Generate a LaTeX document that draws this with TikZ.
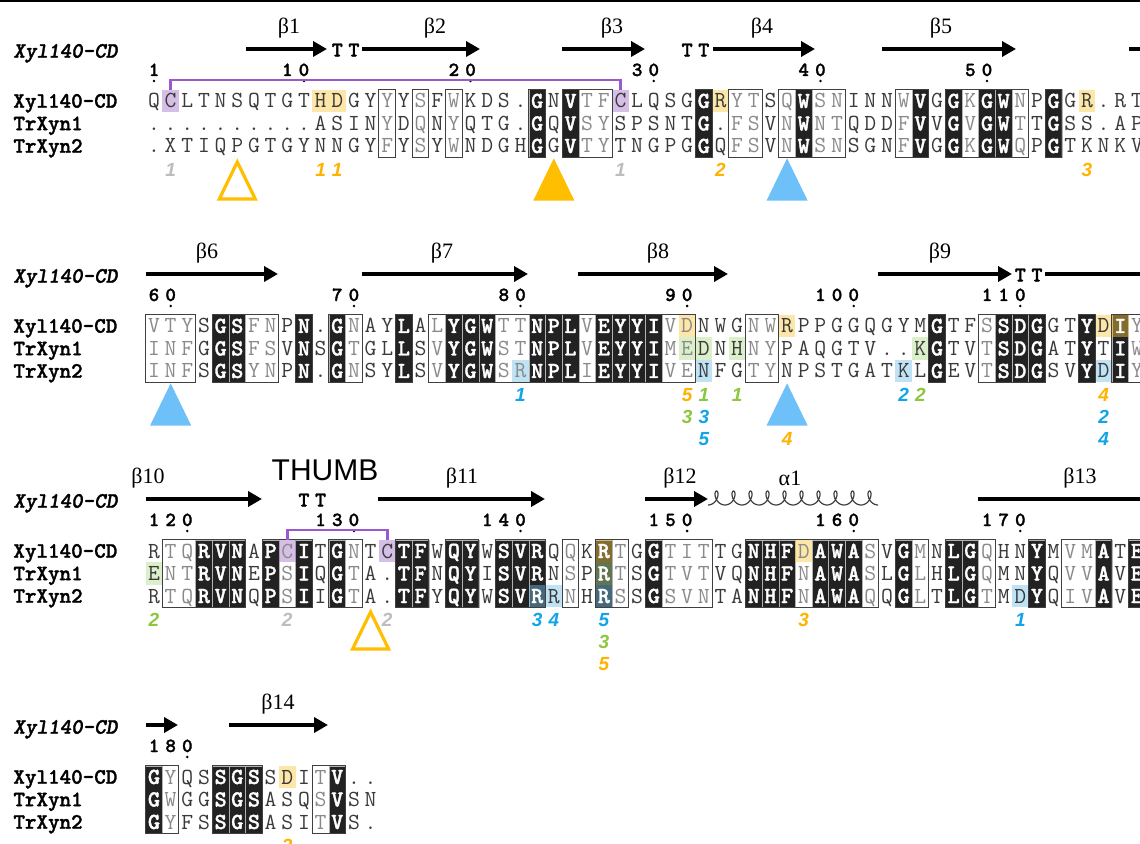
\documentclass[tikz,border=0pt]{standalone}
\usepackage{fontspec}
\newfontfamily\labsans{Liberation Sans}
\newfontfamily\labserif{Liberation Serif}
\newfontfamily\monobf{lmmonolt10-bold.otf}[FakeBold=1.5]
\newfontfamily\monobfsl{lmmonolt10-boldoblique.otf}[FakeBold=1.5]
\usetikzlibrary{arrows.meta}

\definecolor{resdark}{HTML}{3A3A3A}
\definecolor{reslight}{HTML}{8A8A8A}
\definecolor{idblack}{HTML}{222222}
\definecolor{hlyel}{HTML}{F9C83E}
\definecolor{hlgrn}{HTML}{B2DC8C}
\definecolor{hlblu}{HTML}{71C1E9}
\definecolor{hlpur}{HTML}{A471C8}
\definecolor{numorg}{HTML}{FFB300}
\definecolor{numblu}{HTML}{12A4E6}
\definecolor{numgrn}{HTML}{8DC63F}
\definecolor{numgry}{HTML}{BDBDBD}
\definecolor{triorg}{HTML}{FFBE00}
\definecolor{triblu}{HTML}{6EC0F8}
\definecolor{bondpur}{HTML}{9B59CF}

% column geometry, 1 unit = 1 px
\newcommand\colx[1]{154+16.66*(#1-1)}
\newcommand\coll[1]{145.67+16.66*(#1-1)}

\makeatletter
% prefix, y, identical columns, framed columns, residues
\newcommand\seqline[5]{%
  \foreach \rs [count=\ci] in {#5}{%
    \edef\seqtmp{{,\ci,}{,#3,}}%
    \expandafter\in@\seqtmp
    \ifin@ \node[resid] (#1-\ci) at ({\colx{\ci}},#2) {\rs};%
    \else
      \edef\seqtmp{{,\ci,}{,#4,}}%
      \expandafter\in@\seqtmp
      \ifin@ \node[resfr] (#1-\ci) at ({\colx{\ci}},#2) {\rs};%
      \else \node[res] (#1-\ci) at ({\colx{\ci}},#2) {\rs};\fi
    \fi}}
\makeatother
\newcommand\seqid[1]{%
  \foreach \cc in #1
    \fill[idbox] ({\coll{\cc}},-11.25) rectangle ++(16.66,67.5);}
\newcommand\seqframes[1]{%
  \foreach \fa/\fb in {#1}
    \draw[frm] ({\coll{\fa}},-11.25) rectangle ({\coll{\fb}+16.66},56.25);}
\newcommand\seqhl[1]{%
  \foreach \cc/\rw/\hc in {#1}
    \fill[\hc,opacity=.45] ({\coll{\cc}},{-11.25+22.5*\rw}) rectangle ++(16.66,22.5);}
\newcommand\seqnums[3]{%
  \foreach \cc/\dg in {#2} \node[num] (#1-\cc) at ({\colx{\cc}},-31) {\dg};
  \foreach \cc in {#3} \fill ({\colx{\cc}},-20) circle[radius=0.7pt];}
\newcommand\seqnotes[2]{%
  \foreach \cc/\lv/\nt/\lc in {#2}
    \node[note,text=\lc] (#1-\cc-\lv) at ({\colx{\cc}},{69+22*\lv}) {\nt};}
\newcommand\seqtris[1]{%
  \foreach \cc/\tc/\tf in {#1}
    \draw[tri,draw=\tc,fill=\tf] ({\colx{\cc}},61) -- ++(18,37) -- ++(-36,0) -- cycle;}

\begin{document}
\begin{tikzpicture}[x=0.5pt,y=-0.5pt,
    res/.style={font=\fontsize{11.5}{12}\ttfamily, text=resdark, inner sep=0pt, text height=7pt, text depth=0pt},
    resfr/.style={res, text=reslight},
    resid/.style={res, font=\monobf\fontsize{11.5}{12}\selectfont, text=white},
    idbox/.style={fill=idblack, draw=gray!60, line width=0.25pt},
    frm/.style={draw=black!75, line width=0.5pt},
    seqname/.style={font=\monobf\fontsize{11}{12}\selectfont, anchor=west, inner sep=0pt, text height=6.7pt, text depth=0pt},
    topname/.style={seqname, font=\monobfsl\fontsize{11}{12}\selectfont},
    num/.style={font=\monobf\fontsize{10}{11}\selectfont, inner sep=0pt, text height=6pt, text depth=0pt},
    turn/.style={font=\monobf\fontsize{10.5}{12}\selectfont, inner sep=0pt, text height=6.4pt, text depth=0pt},
    ss/.style={line width=2pt},
    ssarr/.style={ss, -{Triangle[length=7pt,width=7.5pt]}},
    sslab/.style={font=\labserif\fontsize{11}{12}\selectfont, inner sep=0pt},
    note/.style={font=\labsans\bfseries\itshape\fontsize{9.5}{10}\selectfont, inner sep=0pt, text height=6.8pt, text depth=0pt},
    tri/.style={line width=1.6pt, line join=miter},
    ssbond/.style={draw=bondpur, line width=1.3pt},
    helix/.style={draw=black!75, line width=0.6pt},
  ]
  \useasboundingbox (0,0) rectangle (1140,844);
  \clip (0,0) rectangle (1140,844);
  \draw[line width=1.5pt] (0,1) -- (1140,1);

  % block 1: residues 1-58
  \begin{scope}[shift={(0,101)}]
    \def\idone{24,26,34,40,47,49,51,52,55}
    \def\frone{15,17,19,27,28,36,37,39,41,42,46,50,53}
    \node[topname] (top1) at (13,-50) {Xyl140-CD};
    \node[seqname] (nm1a) at (13,0) {Xyl140-CD};
    \node[seqname] (nm1b) at (13,22.5) {TrXyn1};
    \node[seqname] (nm1c) at (13,45) {TrXyn2};
    \seqid{\idone}
    \seqhl{2/0/hlpur,11/0/hlyel,12/0/hlyel,29/0/hlpur,35/0/hlyel,57/0/hlyel}
    \seqline{x1}{0}{\idone}{\frone}{Q,C,L,T,N,S,Q,T,G,T,H,D,G,Y,Y,Y,S,F,W,K,D,S,.,G,N,V,T,F,C,L,Q,S,G,G,R,Y,T,S,Q,W,S,N,I,N,N,W,V,G,G,K,G,W,N,P,G,G,R,.,R,T}
    \seqline{y1}{22.5}{\idone}{\frone}{.,.,.,.,.,.,.,.,.,.,A,S,I,N,Y,D,Q,N,Y,Q,T,G,.,G,Q,V,S,Y,S,P,S,N,T,G,.,F,S,V,N,W,N,T,Q,D,D,F,V,V,G,V,G,W,T,T,G,S,S,.,A,P}
    \seqline{z1}{45}{\idone}{\frone}{.,X,T,I,Q,P,G,T,G,Y,N,N,G,Y,F,Y,S,Y,W,N,D,G,H,G,G,V,T,Y,T,N,G,P,G,G,Q,F,S,V,N,W,S,N,S,G,N,F,V,G,G,K,G,W,Q,P,G,T,K,N,K,V}
    \seqframes{15/15,17/17,19/19,24/24,26/28,34/34,36/37,39/42,46/47,49/53,55/55}
    \seqnums{p1}{1/1,9/1,10/0,19/2,20/0,30/3,31/0,40/4,41/0,50/5,51/0}{1,10,20,31,41,51}
    \draw[ssbond] ([yshift=5.5pt]x1-2.center) |- ([yshift=10.5pt]x1-29.center) -- ([yshift=5.5pt]x1-29.center);
    \seqnotes{n1}{2/0/1/numgry,11/0/1/numorg,12/0/1/numorg,29/0/1/numgry,35/0/2/numorg,57/0/3/numorg}
    \seqtris{6/triorg/none,25/triorg/triorg,39/triblu/triblu}
    % secondary structure
    \draw[ssarr] (246,-52) -- (327,-52);
    \foreach \cc in {12,13} \node[turn] (t1-\cc) at ({\colx{\cc}},-51) {T};
    \draw[ssarr] (362,-52) -- (480,-52);
    \draw[ssarr] (562,-52) -- (645,-52);
    \foreach \cc in {33,34} \node[turn] (t1-\cc) at ({\colx{\cc}},-51) {T};
    \draw[ssarr] (713,-52) -- (815,-52);
    \draw[ssarr] (882,-52) -- (1016,-52);
    \draw[ss] (1129,-52) -- (1150,-52);
    \node[sslab] (b1) at (289,-73) {β1};
    \node[sslab] (b2) at (435,-73) {β2};
    \node[sslab] (b3) at (612,-73) {β3};
    \node[sslab] (b4) at (762,-73) {β4};
    \node[sslab] (b5) at (941,-73) {β5};
  \end{scope}

  % block 2: residues 59-117
  \begin{scope}[shift={(0,326)}]
    \def\idtwo{5,6,10,12,16,19,20,21,24,25,26,28,29,30,31,48,52,53,54,57,59}
    \def\frtwo{1,2,3,7,8,13,18,22,23,27,32,33,37,38,51,60}
    \node[topname] (top2) at (13,-50) {Xyl140-CD};
    \node[seqname] (nm2a) at (13,0) {Xyl140-CD};
    \node[seqname] (nm2b) at (13,22.5) {TrXyn1};
    \node[seqname] (nm2c) at (13,45) {TrXyn2};
    \seqid{\idtwo}
    \seqhl{23/2/hlblu,33/0/hlyel,33/1/hlgrn,34/1/hlgrn,34/2/hlblu,36/1/hlgrn,39/0/hlyel,46/2/hlblu,47/1/hlgrn,58/0/hlyel,59/0/hlyel,58/2/hlblu}
    \seqline{x2}{0}{\idtwo}{\frtwo}{V,T,Y,S,G,S,F,N,P,N,.,G,N,A,Y,L,A,L,Y,G,W,T,T,N,P,L,V,E,Y,Y,I,V,D,N,W,G,N,W,R,P,P,G,G,Q,G,Y,M,G,T,F,S,S,D,G,G,T,Y,D,I,Y}
    \seqline{y2}{22.5}{\idtwo}{\frtwo}{I,N,F,G,G,S,F,S,V,N,S,G,T,G,L,L,S,V,Y,G,W,S,T,N,P,L,V,E,Y,Y,I,M,E,D,N,H,N,Y,P,A,Q,G,T,V,.,.,K,G,T,V,T,S,D,G,A,T,Y,T,I,W}
    \seqline{z2}{45}{\idtwo}{\frtwo}{I,N,F,S,G,S,Y,N,P,N,.,G,N,S,Y,L,S,V,Y,G,W,S,R,N,P,L,I,E,Y,Y,I,V,E,N,F,G,T,Y,N,P,S,T,G,A,T,K,L,G,E,V,T,S,D,G,S,V,Y,D,I,Y}
    \seqframes{1/3,5/8,10/10,12/13,16/16,18/33,37/38,48/48,51/54,57/57,59/60}
    \seqnums{p2}{1/6,2/0,12/7,13/0,22/8,23/0,32/9,33/0,41/1,42/0,43/0,51/1,52/1,53/0}{2,13,23,33,43,53}
    \seqnotes{n2}{23/0/1/numblu,33/0/5/numorg,34/0/1/numgrn,36/0/1/numgrn,46/0/2/numblu,47/0/2/numgrn,58/0/4/numorg,
      33/1/3/numgrn,34/1/3/numblu,58/1/2/numblu,34/2/5/numblu,39/2/4/numorg,58/2/4/numblu}
    \seqtris{2/triblu/triblu,39/triblu/triblu}
    \draw[ssarr] (146,-52) -- (278,-52);
    \draw[ssarr] (362,-52) -- (528,-52);
    \draw[ssarr] (578,-52) -- (728,-52);
    \draw[ssarr] (878,-52) -- (1012,-52);
    \foreach \cc in {53,54} \node[turn] (t2-\cc) at ({\colx{\cc}},-51) {T};
    \draw[ss] (1045,-52) -- (1150,-52);
    \node[sslab] (b6) at (207,-73) {β6};
    \node[sslab] (b7) at (442,-73) {β7};
    \node[sslab] (b8) at (658,-73) {β8};
    \node[sslab] (b9) at (940,-73) {β9};
  \end{scope}

  % block 3: residues 118-177
  \begin{scope}[shift={(0,551)}]
    \def\idthree{4,5,6,8,10,12,16,17,19,20,22,23,24,28,31,37,38,39,41,42,43,46,49,50,54,58,60}
    \def\frthree{2,3,9,13,26,29,32,33,34,40,44,47,51,56,57}
    \node[topname] (top3) at (13,-50) {Xyl140-CD};
    \node[seqname] (nm3a) at (13,0) {Xyl140-CD};
    \node[seqname] (nm3b) at (13,22.5) {TrXyn1};
    \node[seqname] (nm3c) at (13,45) {TrXyn2};
    \seqid{\idthree}
    \seqhl{1/1/hlgrn,9/0/hlpur,15/0/hlpur,24/2/hlblu,25/2/hlblu,28/0/hlyel,28/1/hlgrn,28/2/hlblu,40/0/hlyel,53/2/hlblu}
    \seqline{x3}{0}{\idthree}{\frthree}{R,T,Q,R,V,N,A,P,C,I,T,G,N,T,C,T,F,W,Q,Y,W,S,V,R,Q,Q,K,R,T,G,G,T,I,T,T,G,N,H,F,D,A,W,A,S,V,G,M,N,L,G,Q,H,N,Y,M,V,M,A,T,E}
    \seqline{y3}{22.5}{\idthree}{\frthree}{E,N,T,R,V,N,E,P,S,I,Q,G,T,A,.,T,F,N,Q,Y,I,S,V,R,N,S,P,R,T,S,G,T,V,T,V,Q,N,H,F,N,A,W,A,S,L,G,L,H,L,G,Q,M,N,Y,Q,V,V,A,V,E}
    \seqline{z3}{45}{\idthree}{\frthree}{R,T,Q,R,V,N,Q,P,S,I,I,G,T,A,.,T,F,Y,Q,Y,W,S,V,R,R,N,H,R,S,S,G,S,V,N,T,A,N,H,F,N,A,W,A,Q,Q,G,L,T,L,G,T,M,D,Y,Q,I,V,A,V,E}
    \seqframes{2/6,8/10,12/13,16/17,19/20,22/24,26/26,28/29,31/34,37/44,46/47,49/51,54/54,56/58,60/60}
    \seqnums{p3}{1/1,2/2,3/0,11/1,12/3,13/0,21/1,22/4,23/0,31/1,32/5,33/0,41/1,42/6,43/0,51/1,52/7,53/0}{3,13,23,33,43,53}
    \draw[ssbond] ([yshift=5.5pt]x3-9.center) |- ([yshift=10.5pt]x3-15.center) -- ([yshift=5.5pt]x3-15.center);
    \seqnotes{n3}{1/0/2/numgrn,9/0/2/numgry,15/0/2/numgry,24/0/3/numblu,25/0/4/numblu,28/0/5/numblu,40/0/3/numorg,53/0/1/numblu,
      28/1/3/numgrn,28/2/5/numorg}
    \seqtris{14/triorg/none}
    \node[font=\labsans\fontsize{15}{16}\selectfont, inner sep=0pt] (thumb) at (325,-81) {THUMB};
    \draw[ssarr] (146,-52) -- (262,-52);
    \foreach \cc in {10,11} \node[turn] (t3-\cc) at ({\colx{\cc}},-51) {T};
    \draw[ssarr] (378,-52) -- (545,-52);
    \draw[ssarr] (645,-52) -- (708,-52);
    \draw[helix] plot[domain=0:3600, samples=500, variable=\hx] ({708+0.047222*\hx+5*sin(\hx)},{-53+7*cos(\hx)});
    \draw[ss] (978,-52) -- (1150,-52);
    \node[sslab] (b10) at (148,-73) {β10};
    \node[sslab] (b11) at (462,-73) {β11};
    \node[sslab] (b12) at (680,-73) {β12};
    \node[sslab] (a1) at (790,-73) {α1};
    \node[sslab] (b13) at (1080,-73) {β13};
  \end{scope}

  % block 4: residues 178-189
  \begin{scope}[shift={(0,777)}]
    \def\idfour{1,5,6,7,12}
    \def\frfour{2,11}
    \node[topname] (top4) at (13,-50) {Xyl140-CD};
    \node[seqname] (nm4a) at (13,0) {Xyl140-CD};
    \node[seqname] (nm4b) at (13,22.5) {TrXyn1};
    \node[seqname] (nm4c) at (13,45) {TrXyn2};
    \seqid{\idfour}
    \seqhl{9/0/hlyel}
    \seqline{x4}{0}{\idfour}{\frfour}{G,Y,Q,S,S,G,S,S,D,I,T,V,.,.}
    \seqline{y4}{22.5}{\idfour}{\frfour}{G,W,G,G,S,G,S,A,S,Q,S,V,S,N}
    \seqline{z4}{45}{\idfour}{\frfour}{G,Y,F,S,S,G,S,A,S,I,T,V,S,.}
    \seqframes{1/2,5/7,11/12}
    \seqnums{p4}{1/1,2/8,3/0}{3}
    \seqnotes{n4}{9/0/2/numorg}
    \draw[ssarr] (146,-52) -- (178,-52);
    \draw[ssarr] (229,-52) -- (328,-52);
    \node[sslab] (b14) at (278,-73) {β14};
  \end{scope}
\end{tikzpicture}
\end{document}
